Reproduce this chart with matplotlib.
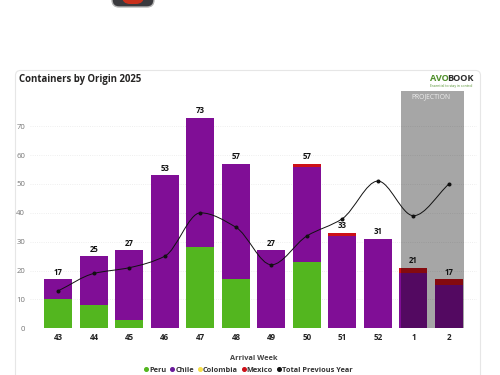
import matplotlib
matplotlib.use('Agg')
import matplotlib.pyplot as plt
from matplotlib.patches import FancyBboxPatch, PathPatch
from matplotlib.path import Path
from matplotlib.lines import Line2D
import numpy as np

plt.rcParams['font.family'] = ['Open Sans', 'DejaVu Sans']

weeks = ['43', '44', '45', '46', '47', '48', '49', '50', '51', '52', '1', '2']
peru = [10, 8, 3, 0, 28, 17, 0, 23, 0, 0, 0, 0]
chile = [7, 17, 24, 53, 45, 40, 27, 33, 32, 31, 19, 15]
colombia = [0, 0, 0, 0, 0, 0, 0, 0, 0, 0, 0, 0]
mexico = [0, 0, 0, 0, 0, 0, 0, 1, 1, 0, 2, 2]
prev_year = [13, 19, 21, 25, 40, 35, 22, 32, 38, 51, 39, 50]
yticks = [0, 10, 20, 30, 40, 50, 60, 70]
projection_start = 10

GREEN = '#53b61f'
PURPLE = '#800e96'
YELLOW = '#f5df4d'
RED = '#cc1018'
W, H = 500, 375


def smooth_path(xs, ys):
    # monotone cubic, same look as the smoothed line in the original
    xs = np.asarray(xs, float)
    ys = np.asarray(ys, float)
    slopes = np.diff(ys) / np.diff(xs)
    tang = np.zeros(len(xs))
    tang[0], tang[-1] = slopes[0], slopes[-1]
    for i in range(1, len(xs) - 1):
        if slopes[i - 1] * slopes[i] > 0:
            tang[i] = 2 * slopes[i - 1] * slopes[i] / (slopes[i - 1] + slopes[i])
    verts = [(xs[0], ys[0])]
    codes = [Path.MOVETO]
    for i in range(len(xs) - 1):
        verts += [(xs[i] + 1 / 3, ys[i] + tang[i] / 3),
                  (xs[i + 1] - 1 / 3, ys[i + 1] - tang[i + 1] / 3),
                  (xs[i + 1], ys[i + 1])]
        codes += [Path.CURVE4] * 3
    return Path(verts, codes)


fig = plt.figure(figsize=(5, 3.75), dpi=100)

# page layer in pixels: card and the cut off icon at the top
bg = fig.add_axes([0, 0, 1, 1])
bg.set_xlim(0, W)
bg.set_ylim(H, 0)
bg.axis('off')
bg.add_patch(FancyBboxPatch((15.5, 70.5), 465, 330, boxstyle='round,pad=0,rounding_size=5',
                            fc='white', ec='#e6e6e6', lw=0.8))
bg.add_patch(FancyBboxPatch((112, -20), 42, 27, boxstyle='round,pad=0,rounding_size=7',
                            fc='#3a3a3e', ec='#b5b5b5', lw=1))
bg.add_patch(FancyBboxPatch((122, -20), 22, 24, boxstyle='round,pad=0,rounding_size=8',
                            fc='#c9301c', ec='none'))
bg.text(19, 79.5, 'Containers by Origin 2025', fontsize=6.95, fontweight='bold',
        color='#252423', va='center', ha='left')
bg.text(429.5, 78.8, 'AVO', fontsize=6.6, fontweight='bold', color='#4f8f2a', va='center', ha='left')
bg.text(447, 78.8, 'BOOK', fontsize=6.6, fontweight='bold', color='#2b2b2b', va='center', ha='left')
bg.text(430, 85.8, 'Essential to stay in control', fontsize=2.5, color='#4f8f2a', va='center', ha='left')
bg.text(254, 358, 'Arrival Week', fontsize=5.3, fontweight='bold', color='#444444', ha='center', va='center')

ax = fig.add_axes([30 / W, 1 - 328.3 / H, 447 / W, 237.6 / H])
ax.patch.set_alpha(0)
x = np.arange(len(weeks))
peru_a = np.array(peru)
chile_a = np.array(chile)
col_a = np.array(colombia)
mex_a = np.array(mexico)
bw = 0.79
ax.bar(x, peru_a, bw, color=GREEN, zorder=2)
ax.bar(x, chile_a, bw, bottom=peru_a, color=PURPLE, zorder=2)
ax.bar(x, col_a, bw, bottom=peru_a + chile_a, color=YELLOW, zorder=2)
ax.bar(x, mex_a, bw, bottom=peru_a + chile_a + col_a, color=RED, zorder=2)

# grey projection band sits over the bars and darkens them
ax.axvspan(projection_start - 0.36, len(weeks) - 1 + 0.41, color='black', alpha=0.35, lw=0, zorder=3)
ax.text(projection_start + 0.5, 80.3, 'PROJECTION', fontsize=4.9, color='#eeeeee', ha='center', va='center', zorder=6)

ax.add_patch(PathPatch(smooth_path(x, prev_year), fc='none', ec='#111111', lw=0.7, zorder=4))
ax.plot(x, prev_year, ls='none', marker='o', ms=1.9, color='#111111', zorder=5)

totals = peru_a + chile_a + col_a + mex_a
for xi, t in zip(x, totals):
    ax.text(xi, t + 0.9, str(t), ha='center', va='bottom', fontsize=5.6, fontweight='bold', color='#111111', zorder=6)

ax.set_xlim(-0.8, 11.79)
ax.set_ylim(0, 82.3)
ax.set_xticks(x, weeks, fontsize=5.8, fontweight='bold', color='#222222')
ax.set_yticks(yticks, [str(v) for v in yticks], fontsize=5.6, color='#777777')
ax.tick_params(length=0, pad=3.5)
ax.grid(axis='y', color='#e9e9e9', lw=0.6, ls=':', zorder=0)
ax.set_axisbelow(True)
for s in ax.spines.values():
    s.set_visible(False)

names = ['Peru', 'Chile', 'Colombia', 'Mexico', 'Total Previous Year']
colors = [GREEN, '#6a1b9a', YELLOW, RED, '#111111']
handles = [Line2D([], [], ls='none', marker='o', ms=2.6, color=c, label=n) for n, c in zip(names, colors)]
leg = fig.legend(handles=handles, ncol=5, loc='center', bbox_to_anchor=(247.5 / W, 1 - 370 / H), frameon=False,
                 fontsize=5.3, handletextpad=-0.1, columnspacing=0.3, handlelength=1, borderpad=0)
for t in leg.get_texts():
    t.set_fontweight('bold')
    t.set_color('#333333')

fig.savefig('out.png', dpi=100)
